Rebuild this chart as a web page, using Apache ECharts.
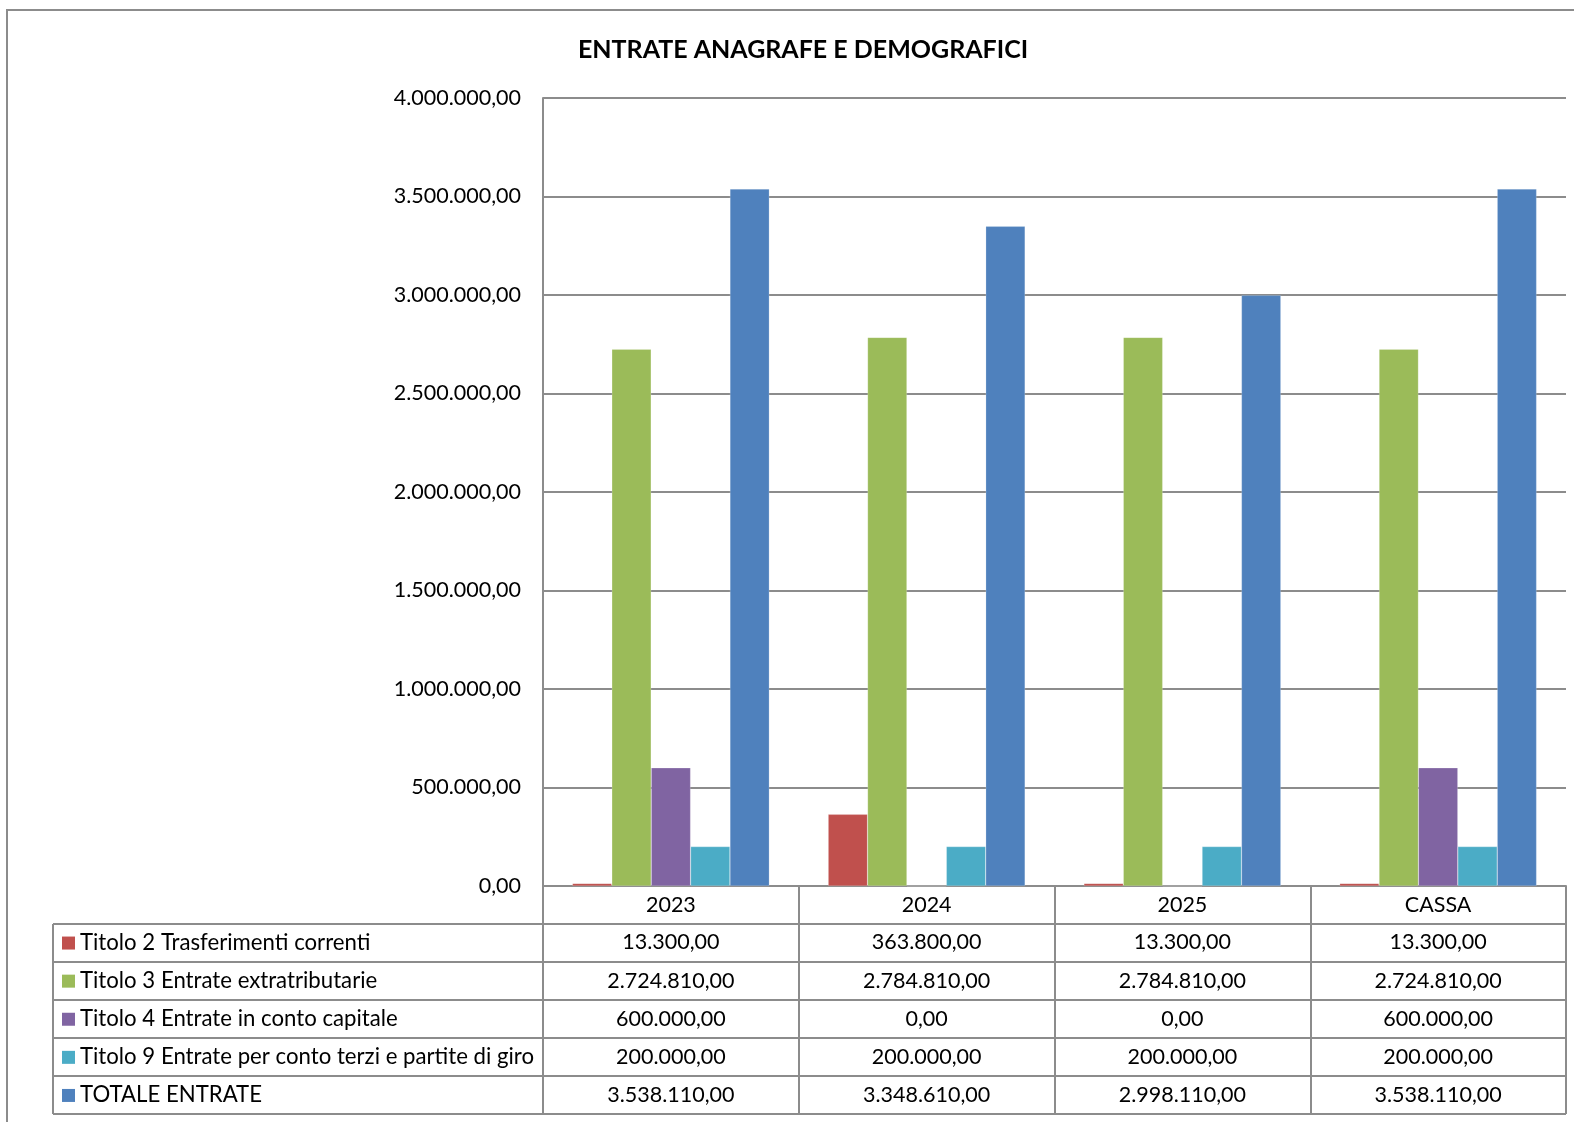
<!DOCTYPE html>
<html>
<head>
<meta charset="utf-8">
<script src="https://cdn.jsdelivr.net/npm/echarts@6/dist/echarts.min.js"></script>
<style>
html,body{margin:0;padding:0;background:#fff;}
#main{width:1574px;height:1122px;}
</style>
</head>
<body>
<div id="main"></div>
<script>
var categories = ['2023', '2024', '2025', 'CASSA'];
var seriesNames = [
  'Titolo 2 Trasferimenti correnti',
  'Titolo 3 Entrate extratributarie',
  'Titolo 4 Entrate in conto capitale',
  'Titolo 9 Entrate per conto terzi e partite di giro',
  'TOTALE ENTRATE'
];
var titolo2 = [13300, 363800, 13300, 13300];
var titolo3 = [2724810, 2784810, 2784810, 2724810];
var titolo4 = [600000, 0, 0, 600000];
var titolo9 = [200000, 200000, 200000, 200000];
var totale = [3538110, 3348610, 2998110, 3538110];
var colors = ['#C0504D', '#9BBB59', '#8064A2', '#4BACC6', '#4F81BD'];
var yTicks = [0, 500000, 1000000, 1500000, 2000000, 2500000, 3000000, 3500000, 4000000];

var allSeries = [titolo2, titolo3, titolo4, titolo9, totale];
var FONT = 'Lato';
var LINE = '#8c8c8c';

function fmt(v) {
  var parts = v.toFixed(2).split('.');
  var intPart = parts[0].replace(/\B(?=(\d{3})+(?!\d))/g, '.');
  return intPart + ',' + parts[1];
}

var chart = echarts.init(document.getElementById('main'));

var series = allSeries.map(function (d, i) {
  return {
    name: seriesNames[i],
    type: 'bar',
    data: d,
    barGap: '0%',
    barCategoryGap: '23%',
    itemStyle: { color: colors[i], borderColor: 'rgba(255,255,255,0.4)', borderWidth: 0.5 },
    emphasis: { disabled: true }
  };
});

var GRID_TOP = 98, GRID_BOTTOM_Y = 886, GRID_LEFT = 543, GRID_RIGHT_X = 1566;

chart.setOption({
  animation: false,
  title: {
    text: 'ENTRATE ANAGRAFE E DEMOGRAFICI',
    left: 798, top: 32, textAlign: 'center',
    textStyle: { fontFamily: FONT, fontWeight: 'bold', fontSize: 25, color: '#000' }
  },
  grid: { left: GRID_LEFT, right: 1574 - GRID_RIGHT_X, top: GRID_TOP, bottom: 1122 - GRID_BOTTOM_Y, containLabel: false },
  xAxis: {
    type: 'category',
    data: categories,
    axisLine: { show: true, lineStyle: { color: LINE, width: 2 } },
    axisTick: { show: true, length: 228, lineStyle: { color: LINE, width: 2 } },
    axisLabel: { margin: 8, fontFamily: FONT, fontSize: 21.5, color: '#000' }
  },
  yAxis: {
    type: 'value',
    min: yTicks[0], max: yTicks[yTicks.length - 1], interval: 500000,
    axisLine: { show: true, lineStyle: { color: LINE, width: 2 } },
    axisTick: { show: false },
    splitLine: { show: true, lineStyle: { color: LINE, width: 2 } },
    axisLabel: { margin: 22, fontFamily: FONT, fontSize: 21.5, color: '#000', formatter: function (v) { return fmt(v); } }
  },
  series: series
});

function buildTable() {
  var g = [];
  var headerH = 37.5;
  var rowH = 38.1;
  var tableLeft = 53;
  var tableRight = GRID_RIGHT_X;
  var nRows = seriesNames.length;
  g.push({ type: 'rect', shape: { x: 7, y: 10, width: 1620, height: 1200 }, style: { fill: null, stroke: LINE, lineWidth: 2 }, silent: true });
  for (var r = 0; r <= nRows; r++) {
    var y = Math.round(GRID_BOTTOM_Y + headerH + r * rowH);
    g.push({ type: 'line', shape: { x1: tableLeft, y1: y, x2: tableRight, y2: y }, style: { stroke: LINE, lineWidth: 2 }, silent: true });
  }
  g.push({ type: 'line', shape: { x1: tableLeft, y1: Math.round(GRID_BOTTOM_Y + headerH), x2: tableLeft, y2: Math.round(GRID_BOTTOM_Y + headerH + nRows * rowH) }, style: { stroke: LINE, lineWidth: 2 }, silent: true });
  for (var i = 0; i < nRows; i++) {
    var cy = GRID_BOTTOM_Y + headerH + i * rowH + rowH / 2;
    g.push({ type: 'rect', shape: { x: 62, y: cy - 6, width: 13, height: 13 }, style: { fill: colors[i] }, silent: true });
    g.push({ type: 'text', x: 80, y: cy, style: { text: seriesNames[i], fontFamily: FONT, fontSize: 22.2, fill: '#000', verticalAlign: 'middle', align: 'left' }, silent: true });
    for (var c = 0; c < categories.length; c++) {
      var cx = chart.convertToPixel({ xAxisIndex: 0 }, c);
      g.push({ type: 'text', x: cx, y: cy, style: { text: fmt(allSeries[i][c]), fontFamily: FONT, fontSize: 21.5, fill: '#000', verticalAlign: 'middle', align: 'center' }, silent: true });
    }
  }
  chart.setOption({ graphic: g });
}
buildTable();
</script>
</body>
</html>
